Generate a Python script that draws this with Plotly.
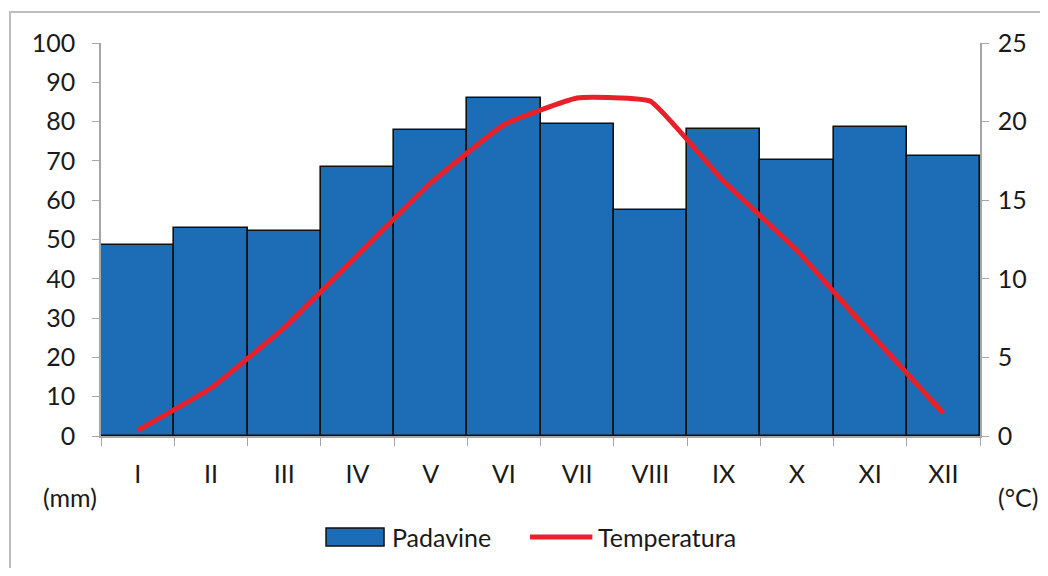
import plotly.graph_objects as go

months = ["I", "II", "III", "IV", "V", "VI", "VII", "VIII", "IX", "X", "XI", "XII"]
padavine = [48.6, 52.9, 52.2, 68.4, 77.9, 86.0, 79.4, 57.5, 78.1, 70.2, 78.6, 71.2]
temperatura = [0.35, 3.05, 6.9, 11.5, 16.1, 19.8, 21.5, 21.3, 16.2, 11.8, 6.55, 1.45]

FONT = "Lato, 'Open Sans', sans-serif"
AX = "#a6a6a6"
BAR = "#1c6db5"
RED = "#e8202a"
FS = 25

fig = go.Figure()
fig.add_trace(go.Bar(
    x=months, y=padavine, name="Padavine",
    marker=dict(color=BAR, line=dict(color="#111111", width=1.6)),
    yaxis="y", showlegend=False,
))
fig.add_trace(go.Scatter(
    x=months, y=temperatura, name="Temperatura", mode="lines",
    line=dict(color=RED, width=5, shape="spline", smoothing=0.35),
    yaxis="y2", showlegend=False,
))

fig.update_layout(
    width=1032, height=560,
    margin=dict(l=93, r=60, t=35, b=132),
    paper_bgcolor="white", plot_bgcolor="white",
    bargap=0,
    font=dict(family=FONT, size=FS, color="#1a1a1a"),
    showlegend=False,
    xaxis=dict(type="category", tickson="boundaries", ticks="outside", ticklen=8,
               tickcolor=AX, showline=True, linecolor=AX, linewidth=1.5,
               showgrid=False, ticklabelstandoff=15, range=[-0.5, 11.5]),
    yaxis=dict(range=[0, 100], dtick=10, ticks="outside", ticklen=7, tickcolor=AX,
               showline=True, linecolor=AX, linewidth=1.5, showgrid=False,
               zeroline=False, ticklabelstandoff=12),
    yaxis2=dict(range=[0, 25], dtick=5, overlaying="y", side="right", ticks="outside",
                ticklen=7, tickcolor=AX, showline=True, linecolor=AX, linewidth=1.5,
                showgrid=False, zeroline=False, ticklabelstandoff=4),
    annotations=[
        dict(text="(mm)", xref="paper", yref="paper", x=-0.035, y=-0.155,
             xanchor="center", yanchor="middle", showarrow=False, font=dict(size=FS)),
        dict(text="(°C)", xref="paper", yref="paper", x=1.0435, y=-0.155,
             xanchor="center", yanchor="middle", showarrow=False, font=dict(size=FS)),
        dict(text="Padavine", xref="paper", yref="paper", x=0.329, y=-0.257,
             xanchor="left", yanchor="middle", showarrow=False, font=dict(size=FS)),
        dict(text="Temperatura", xref="paper", yref="paper", x=0.563, y=-0.257,
             xanchor="left", yanchor="middle", showarrow=False, font=dict(size=FS)),
    ],
    shapes=[
        dict(type="rect", xref="paper", yref="paper", x0=-0.1035, x1=1.2, y0=-0.5, y1=1.079,
             line=dict(color="#bdbdbd", width=2), fillcolor="rgba(0,0,0,0)", layer="below"),
        dict(type="rect", xref="paper", yref="paper", x0=0.256, x1=0.322, y0=-0.280, y1=-0.234,
             line=dict(color="#111111", width=1.5), fillcolor=BAR),
        dict(type="line", xref="paper", yref="paper", x0=0.488, x1=0.559, y0=-0.257, y1=-0.257,
             line=dict(color=RED, width=5)),
    ],
)

fig.write_html("out.html")
